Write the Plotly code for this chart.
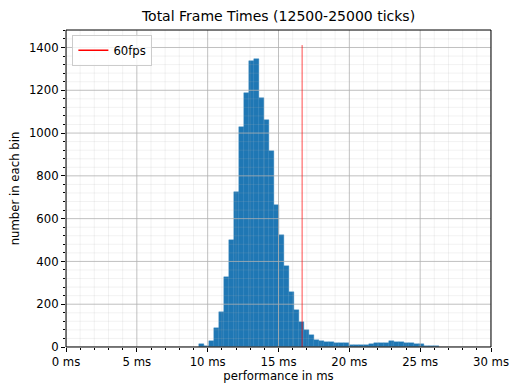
import plotly.graph_objects as go

# ---- data ----
bin_start = 9.40      # ms, left edge of first bin
bin_width = 0.3527    # ms
counts = [15, 3, 28, 87, 162, 325, 499, 725, 1028, 1188, 1335, 1344, 1165, 1059,
          915, 663, 523, 380, 255, 175, 118, 81, 58, 34, 26, 23, 23, 17, 19, 19,
          11, 10, 10, 11, 15, 17, 21, 17, 26, 23, 22, 19, 20, 16, 12, 6, 6, 5]
fps60_ms = 1000.0 / 60.0
x_ticks = [0, 5, 10, 15, 20, 25, 30]
x_tick_labels = ["0 ms", "5 ms", "10 ms", "15 ms", "20 ms", "25 ms", "30 ms"]
y_ticks = [0, 200, 400, 600, 800, 1000, 1200, 1400]

centers = [bin_start + bin_width * (i + 0.5) for i in range(len(counts))]
vline_top = max(counts) * 1.05
y_max = vline_top * 1.05

FONT = "DejaVu Sans"
FS = 11.7
W, H = 510, 385
L, R, T, B = 66, 19, 30, 38

fig = go.Figure()
fig.add_trace(go.Bar(x=centers, y=counts, width=bin_width,
                     marker=dict(color="#1f77b4", line=dict(width=0.4, color="#2a7fba")),
                     showlegend=False))
fig.add_trace(go.Scatter(x=[None], y=[None], mode="lines", line=dict(color="red", width=1.5), name="60fps"))

# grid above bars (matplotlib draws grid over patches)
MAJOR = "#b0b0b0"
MINOR = "rgba(176,176,176,0.28)"
shapes = []
for xv in range(0, 31):
    major = xv % 5 == 0
    shapes.append(dict(type="line", xref="x", yref="paper", x0=xv, x1=xv, y0=0, y1=1, layer="above",
                       line=dict(color=MAJOR if major else MINOR, width=0.8 if major else 0.6)))
for yv in range(0, 1481, 40):
    major = yv % 200 == 0
    shapes.append(dict(type="line", xref="paper", yref="y", x0=0, x1=1, y0=yv, y1=yv, layer="above",
                       line=dict(color=MAJOR if major else MINOR, width=0.8 if major else 0.6)))
shapes.append(dict(type="line", xref="x", yref="y", x0=fps60_ms, x1=fps60_ms, y0=0, y1=vline_top,
                   layer="above", line=dict(color="rgba(255,0,0,0.7)", width=1)))
shapes.append(dict(type="rect", xref="paper", yref="paper", x0=0, x1=1, y0=0, y1=1, layer="above",
                   line=dict(color="black", width=1)))

fig.update_layout(
    width=W, height=H,
    margin=dict(l=L, r=R, t=T, b=B, autoexpand=False),
    paper_bgcolor="white", plot_bgcolor="white",
    font=dict(family=FONT, size=FS, color="black"),
    title=dict(text="Total Frame Times (12500-25000 ticks)", x=0.5, xanchor="center",
               xref="paper", y=1 - 16 / H, yanchor="middle", font=dict(size=14, family=FONT),
               automargin=False),
    bargap=0,
    shapes=shapes,
    legend=dict(x=0.015, y=0.985, xanchor="left", yanchor="top", bgcolor="rgba(255,255,255,0.8)",
                bordercolor="#cccccc", borderwidth=1, font=dict(size=FS, family=FONT),
                itemwidth=30, tracegroupgap=0),
    xaxis=dict(range=[0, 30], tickmode="array", tickvals=x_ticks, ticktext=x_tick_labels,
               showgrid=False, zeroline=False, ticks="outside", ticklen=4, tickcolor="black",
               showline=False, automargin=False,
               minor=dict(dtick=1, ticks="outside", ticklen=2, tickcolor="black", showgrid=False),
               title=dict(text="performance in ms", font=dict(size=FS), standoff=2)),
    yaxis=dict(range=[0, y_max], tickmode="array", tickvals=y_ticks,
               showgrid=False, zeroline=False, ticks="outside", ticklen=4, tickcolor="black",
               showline=False, automargin=False,
               minor=dict(dtick=40, ticks="outside", ticklen=2, tickcolor="black", showgrid=False),
               title=dict(text="number in each bin", font=dict(size=FS), standoff=6)),
)

# remove the default 8px page margin so the 510x385 figure fills the window exactly
fig.write_html("out.html", config={"displayModeBar": False},
               post_script="document.body.style.margin='0';document.body.style.overflow='hidden';")
